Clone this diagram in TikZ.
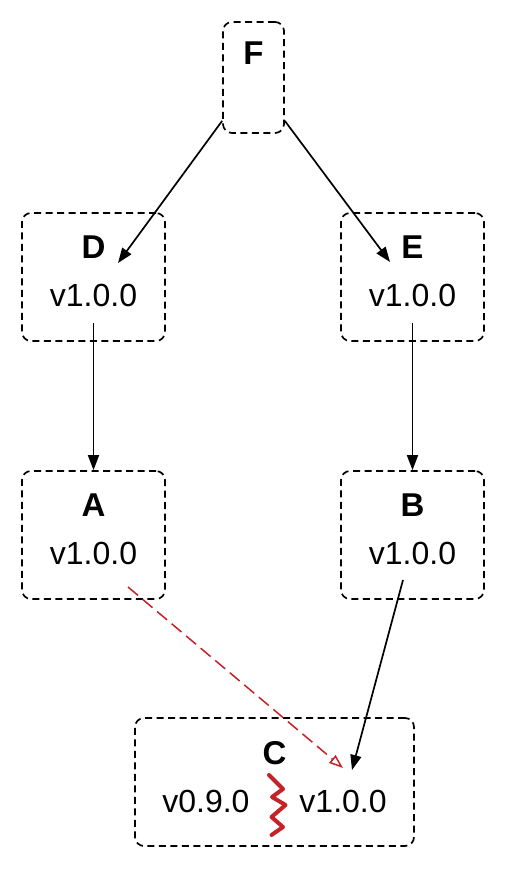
\documentclass[tikz,border=0pt]{standalone}
\usepackage{fontspec}
\setmainfont{Liberation Sans}
\usetikzlibrary{arrows.meta,positioning}

\definecolor{conflict}{HTML}{C62127}
\newcommand{\pkgtitle}[1]{\textbf{\fontsize{33}{33}\selectfont #1}}

\begin{document}
\begin{tikzpicture}[x=1pt,y=-1pt,on grid,node distance=258pt,
    pkg/.style={draw,dashed,dash pattern=on 7pt off 4.5pt,line width=1.7pt,
      rounded corners=9pt,minimum width=143pt,minimum height=128pt,
      inner sep=0pt,align=center,text depth=11pt,
      font=\fontsize{32}{48}\selectfont},
    dep/.style={-{Triangle[length=15pt,width=11pt]},line width=1.7pt},
    clash/.style={-{Triangle[open,length=14pt,width=10pt]},conflict,
      line width=1.5pt,dash pattern=on 13pt off 6pt}]
  \useasboundingbox (0,0) rectangle (508,870);
  \node[pkg,minimum width=61pt,minimum height=111pt,text depth=0pt] (F)
    at (253.5,77.5) {\pkgtitle{F}\\\phantom{v}};
  \node[pkg] (D) at (93.5,277) {\pkgtitle{D}\\v1.0.0};
  \node[pkg] (E) [right=319pt of D] {\pkgtitle{E}\\v1.0.0};
  \node[pkg] (A) [below=of D] {\pkgtitle{A}\\v1.0.0};
  \node[pkg] (B) [below=of E] {\pkgtitle{B}\\v1.0.0};
  \node[pkg,minimum width=279pt] (C) at (274.5,782)
    {\pkgtitle{C}\\v0.9.0\hspace{50pt}v1.0.0};

  % version conflict
  \draw[conflict,line width=4pt,line cap=round,line join=round]
    (269,775) -- (283,789) -- (272,797) -- (285.5,805) -- (271.5,817)
    -- (283,827) -- (271.5,835);

  \draw[dep] ([yshift=13pt]F.south west) -- ([xshift=24.5pt,yshift=14pt]D.center);
  \draw[dep] ([yshift=13pt]F.south east) -- ([xshift=-22.5pt,yshift=15pt]E.center);
  \draw[dep] ([yshift=-46pt]D.center) -- (A.north);
  \draw[dep] ([yshift=-46pt]E.center) -- (B.north);
  \draw[dep] ([xshift=-9.5pt,yshift=-45pt]B.center) -- ([xshift=77.5pt,yshift=12pt]C.center);
  \draw[clash] ([xshift=34.5pt,yshift=-52pt]A.center) -- ([xshift=68.5pt,yshift=14pt]C.center);
\end{tikzpicture}
\end{document}
